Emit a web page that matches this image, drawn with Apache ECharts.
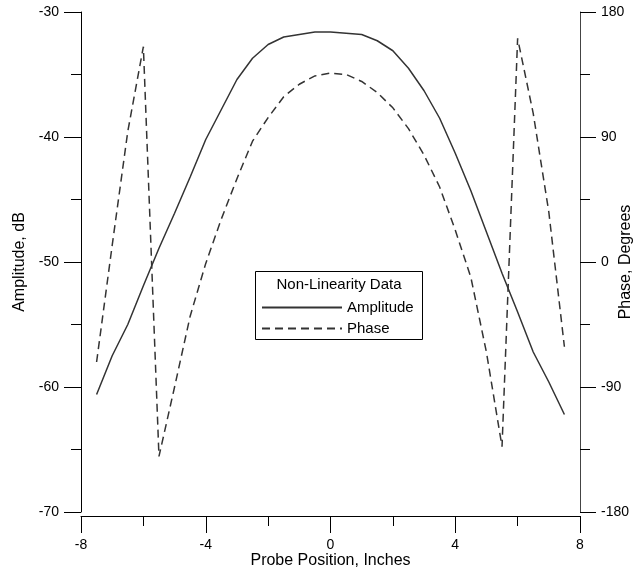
<!DOCTYPE html>
<html>
<head>
<meta charset="utf-8">
<script src="https://cdn.jsdelivr.net/npm/echarts@6/dist/echarts.min.js"></script>
<style>
html,body{margin:0;padding:0;background:#fff;}
#chart{width:643px;height:573px;}
</style>
</head>
<body>
<div id="chart"></div>
<script>
// probe positions, inches
var positions = [-7.5,-7,-6.5,-6,-5.5,-5,-4.5,-4,-3.5,-3,-2.5,-2,-1.5,-1,-0.5,0,0.5,1,1.5,2,2.5,3,3.5,4,4.5,5,5.5,6,6.5,7,7.5];
// amplitude, dB
var amplitude = [-60.6,-57.5,-55.0,-51.9,-48.9,-46.1,-43.2,-40.2,-37.8,-35.4,-33.7,-32.6,-32.0,-31.8,-31.6,-31.6,-31.7,-31.8,-32.3,-33.1,-34.5,-36.3,-38.5,-41.3,-44.3,-47.6,-50.9,-54.0,-57.2,-59.6,-62.2];
// phase, degrees
var phase = [-72,12,94,155,-140,-90,-39,-1,31,60,87,104,119,128,134,136,135,130,122,111,96,77,54,23,-11,-65,-133,161,107,36,-61];

var fontFam = '"Liberation Sans", Arial, sans-serif';

function pairs(ys){
	var out = [];
	for (var i = 0; i < positions.length; i++) {
		out.push([positions[i], ys[i]]);
	}
	return out;
}

function axisBase(){
	return {
		type: 'value',
		axisLine: {show: true, onZero: false, lineStyle: {color: '#000', width: 1}},
		axisTick: {show: true, inside: false, length: 17, lineStyle: {color: '#000', width: 1}},
		minorTick: {show: true, splitNumber: 2, length: 10, lineStyle: {color: '#000', width: 1}},
		splitLine: {show: false},
		axisLabel: {inside: false, color: '#000', fontSize: 14, fontFamily: fontFam},
		nameLocation: 'middle',
		nameMoveOverlap: false,
		nameTextStyle: {color: '#000', fontSize: 16, fontFamily: fontFam}
	};
}

var myChart = echarts.init(document.getElementById('chart'));

var xAx = axisBase();
xAx.min = -8; xAx.max = 8; xAx.interval = 4;
xAx.offset = 4;
xAx.axisLabel.margin = 22;
xAx.name = 'Probe Position, Inches';
xAx.nameGap = 37;

var yLeft = axisBase();
yLeft.min = -70; yLeft.max = -30; yLeft.interval = 10;
yLeft.position = 'left';
yLeft.axisLabel.margin = 22;
yLeft.name = 'Amplitude, dB';
yLeft.nameGap = 53;

var yRight = axisBase();
yRight.min = -180; yRight.max = 180; yRight.interval = 90;
yRight.position = 'right';
yRight.axisLine.lineStyle.color = '#444';
yRight.axisTick.length = 16;
yRight.axisLabel.margin = 21;
yRight.name = 'Phase, Degrees';
yRight.nameGap = 38;

var option = {
	animation: false,
	backgroundColor: '#fff',
	grid: {left: 81, right: 63, top: 12, bottom: 61, containLabel: false, outerBoundsMode: 'none'},
	xAxis: xAx,
	yAxis: [yLeft, yRight],
	legend: {
		orient: 'vertical',
		left: 256,
		top: 295,
		itemWidth: 80,
		itemHeight: 10,
		itemGap: 6,
		z: 5,
		itemStyle: {opacity: 0},
		textStyle: {color: '#000', fontSize: 15, fontFamily: fontFam},
		data: ['Amplitude', 'Phase']
	},
	graphic: [{
		type: 'rect',
		z: 3,
		shape: {x: 255.5, y: 271.5, width: 167, height: 68},
		style: {fill: '#fff', stroke: '#000', lineWidth: 1}
	}, {
		type: 'text',
		z: 4,
		x: 339, y: 285,
		style: {text: 'Non-Linearity Data', fill: '#000', font: '15px ' + fontFam, textAlign: 'center', textVerticalAlign: 'middle'}
	}],
	series: [{
		name: 'Amplitude',
		type: 'line',
		yAxisIndex: 0,
		symbol: 'none',
		lineStyle: {color: '#333', width: 1.5},
		itemStyle: {color: '#333'},
		data: pairs(amplitude)
	}, {
		name: 'Phase',
		type: 'line',
		yAxisIndex: 1,
		symbol: 'none',
		lineStyle: {color: '#333', width: 1.5, type: [8, 5]},
		itemStyle: {color: '#333'},
		data: pairs(phase)
	}]
};
myChart.setOption(option);
</script>
</body>
</html>
